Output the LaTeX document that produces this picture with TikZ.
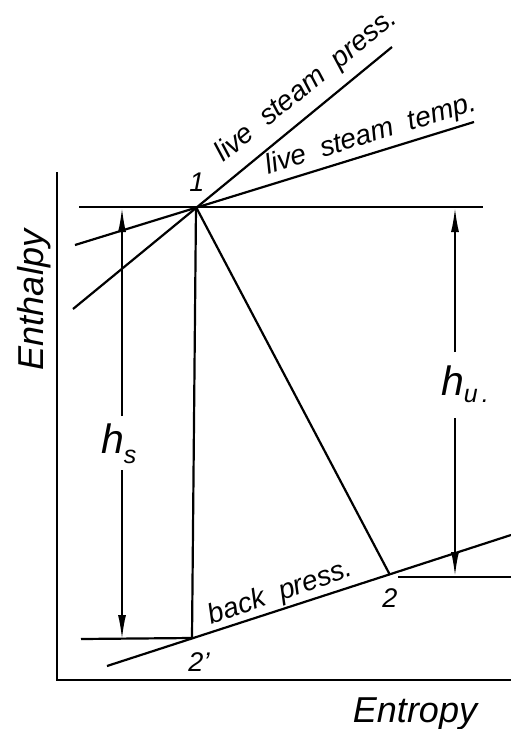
\documentclass[tikz,border=0pt]{standalone}
\usepackage{fontspec}
\setmainfont{Liberation Sans}
\usetikzlibrary{arrows.meta}
\newcommand{\wsp}{\hspace{0.55em}}
\begin{document}
\begin{tikzpicture}[x=1pt,y=-1pt, line width=2.2pt,
  lbl/.style={font=\itshape\fontsize{28}{30}\selectfont, inner sep=0pt, anchor=base},
  axlbl/.style={font=\itshape\fontsize{36}{40}\selectfont, inner sep=0pt, anchor=base},
  num/.style={font=\itshape\fontsize{27}{29}\selectfont, inner sep=0pt},
  hlbl/.style={font=\itshape\fontsize{41}{44}\selectfont, inner sep=0pt, anchor=base west},
  dimarrow/.style={-{Latex[length=25pt,width=8pt]}},
]
\useasboundingbox (0,0) rectangle (511,729);
% axes
\coordinate (axtop) at (57,172);
\coordinate (origin) at (57,680);
\coordinate (axright) at (511,680);
\draw (axtop) -- (origin) -- (axright);
% key points
\coordinate (p1) at (196,207);
\coordinate (p2) at (390,575);
\coordinate (p2p) at (192,638);
% horizontal at state 1
\coordinate (h1l) at (79,207);
\coordinate (h1r) at (483,207);
\draw (h1l) -- (h1r);
% live steam press line
\coordinate (lpa) at (73,309);
\coordinate (lpb) at (392,47);
\draw (lpa) -- (lpb);
% live steam temp line
\coordinate (lta) at (75,245);
\coordinate (ltb) at (474,122);
\draw (lta) -- (ltb);
% back press line
\coordinate (bpa) at (107,666);
\coordinate (bpb) at (511,535);
\draw (bpa) -- (bpb);
% expansion lines
\draw (p1) -- (p2p);
\draw (p1) -- (p2);
% horizontals at 2' and 2
\coordinate (h2pl) at (81,639);
\draw (h2pl) -- (p2p);
\coordinate (h2l) at (398,577);
\coordinate (h2r) at (511,577);
\draw (h2l) -- (h2r);
% h_s dimension
\coordinate (hsTop) at (122,207);
\coordinate (hsA) at (122,416);
\coordinate (hsB) at (122,470);
\coordinate (hsBot) at (122,640);
\draw[dimarrow] (hsA) -- (hsTop);
\draw[dimarrow] (hsB) -- (hsBot);
% h_u dimension
\coordinate (huTop) at (455,207);
\coordinate (huA) at (455,352);
\coordinate (huB) at (455,418);
\coordinate (huBot) at (455,577);
\draw[dimarrow] (huA) -- (huTop);
\draw[dimarrow] (huB) -- (huBot);
% labels
\node[hlbl] (hs) at (100,453) {h\raisebox{-10pt}{\fontsize{25}{27}\selectfont s}};
\node[hlbl] (hu) at (440,395) {h\raisebox{-7pt}{\fontsize{25}{27}\selectfont u\hspace{4pt}.}};
\node[lbl, rotate=39] (tpress) at (311,92) {live\wsp steam\wsp press.};
\node[lbl, rotate=17] (ttemp) at (373,142) {live\wsp steam\wsp temp.};
\node[lbl, rotate=19] (tback) at (283,600) {back\wsp press.};
\node[num] (n1) at (197,182) {1};
\node[num] (n2) at (390,598) {2};
\node[num] (n2p) at (199,662) {2'};
\node[axlbl] (tent) at (415,722) {Entropy};
\node[axlbl, rotate=90] (tenth) at (43,300) {Enthalpy};
\end{tikzpicture}
\end{document}
